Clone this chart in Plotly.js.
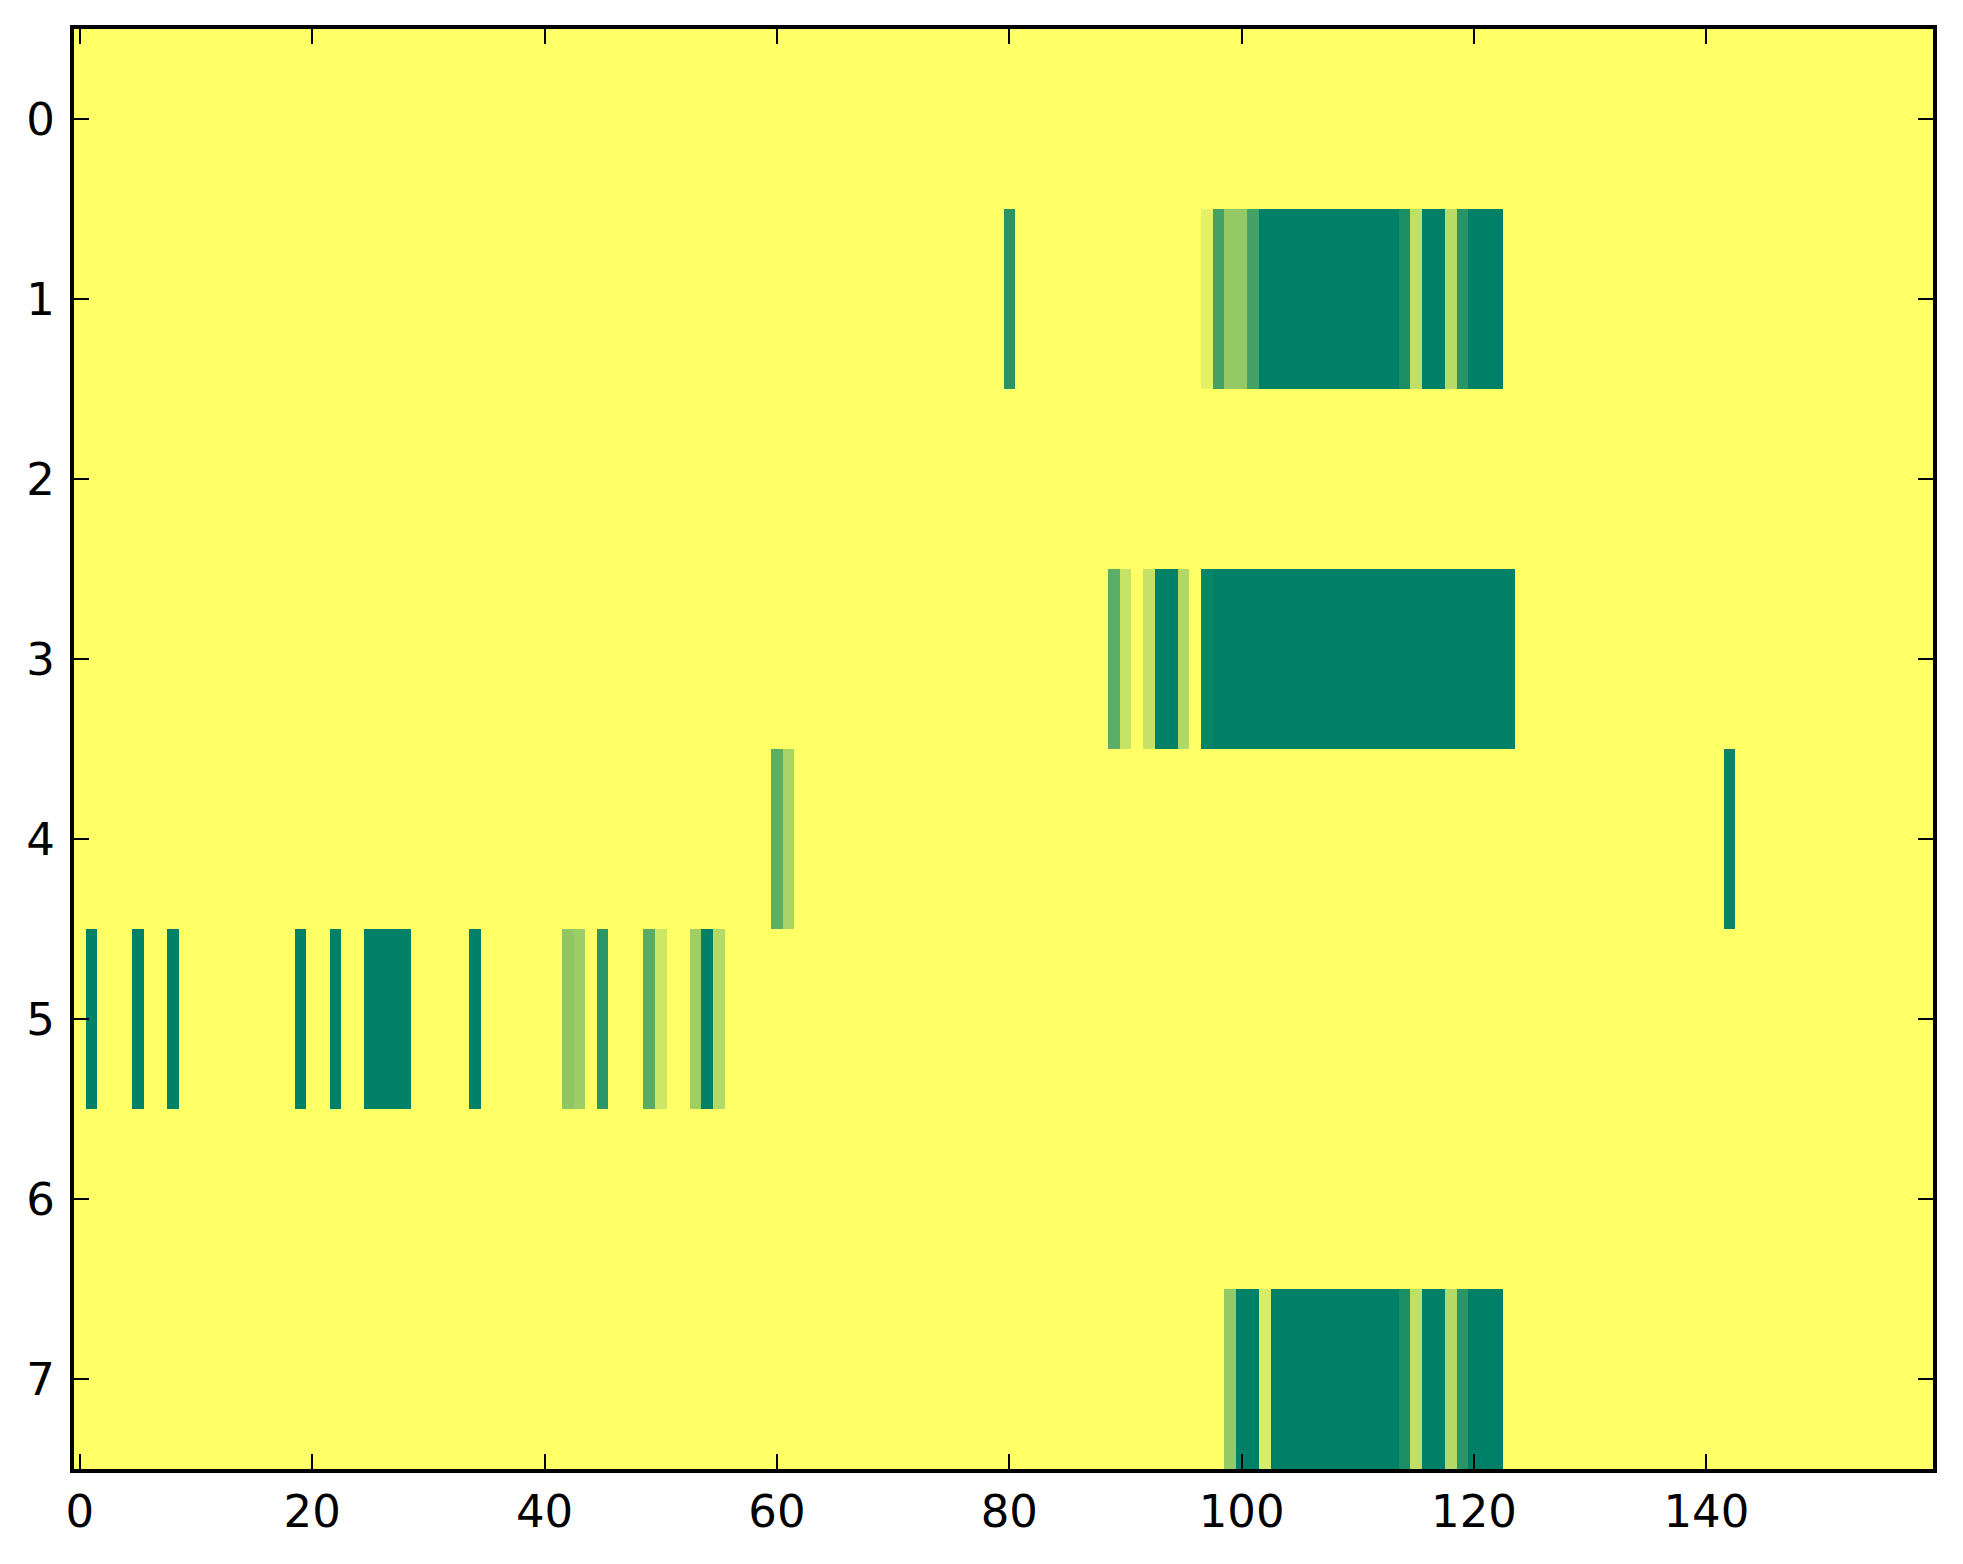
<!DOCTYPE html>
<html>
<head>
<meta charset="utf-8">
<script src="https://cdn.plot.ly/plotly-3.0.1.min.js"></script>
<style>html,body{margin:0;padding:0;background:#fff;}#chart{width:1963px;height:1564px;}</style>
</head>
<body>
<div id="chart"></div>
<script>
// Number of columns (x) and row labels (y)
const nCols = 160;
const rowLabels = [0, 1, 2, 3, 4, 5, 6, 7];
const xTickVals = [0, 20, 40, 60, 80, 100, 120, 140];

// Non-zero cells per row (column index, value); all other cells are 0
const row0Cols = [];
const row0Vals = [];
const row1Cols = [80, 97, 98, 99, 100, 101, 102, 103, 104, 105, 106, 107, 108, 109, 110, 111, 112, 113, 114, 115, 116, 117, 118, 119, 120, 121, 122];
const row1Vals = [0.84, 0.11, 0.73, 0.42, 0.42, 0.73, 1, 1, 1, 1, 1, 1, 1, 1, 1, 1, 1, 1, 0.89, 0.25, 1, 1, 0.28, 0.84, 1, 1, 1];
const row2Cols = [];
const row2Vals = [];
const row3Cols = [89, 90, 92, 93, 94, 95, 97, 98, 99, 100, 101, 102, 103, 104, 105, 106, 107, 108, 109, 110, 111, 112, 113, 114, 115, 116, 117, 118, 119, 120, 121, 122, 123];
const row3Vals = [0.64, 0.22, 0.23, 1, 1, 0.31, 0.97, 1, 1, 1, 1, 1, 1, 1, 1, 1, 1, 1, 1, 1, 1, 1, 1, 1, 1, 1, 1, 1, 1, 1, 1, 1, 1];
const row4Cols = [60, 61, 142];
const row4Vals = [0.63, 0.34, 0.97];
const row5Cols = [1, 5, 8, 19, 22, 25, 26, 27, 28, 34, 42, 43, 45, 49, 50, 53, 54, 55];
const row5Vals = [1, 1, 1, 1, 1, 1, 1, 1, 1, 1, 0.44, 0.39, 0.83, 0.65, 0.2, 0.38, 1, 0.3];
const row6Cols = [];
const row6Vals = [];
const row7Cols = [99, 100, 101, 102, 103, 104, 105, 106, 107, 108, 109, 110, 111, 112, 113, 114, 115, 116, 117, 118, 119, 120, 121, 122];
const row7Vals = [0.42, 1, 1, 0.15, 1, 1, 1, 1, 1, 1, 1, 1, 1, 1, 1, 0.89, 0.25, 1, 1, 0.30, 0.835, 1, 1, 1];

const rowCols = [row0Cols, row1Cols, row2Cols, row3Cols, row4Cols, row5Cols, row6Cols, row7Cols];
const rowVals = [row0Vals, row1Vals, row2Vals, row3Vals, row4Vals, row5Vals, row6Vals, row7Vals];

const xs = [];
for (let i = 0; i < nCols; i++) xs.push(i);
const z = rowLabels.map((r, ri) => {
  const row = new Array(nCols).fill(0);
  rowCols[ri].forEach((c, k) => { row[c] = rowVals[ri][k]; });
  return row;
});

// matplotlib "summer_r" colormap (linear in RGB)
const summerR = [[0, 'rgb(255,255,102)'], [1, 'rgb(0,128,102)']];

const trace = {
  type: 'heatmap',
  x: xs,
  y: rowLabels,
  z: z,
  zmin: 0,
  zmax: 1,
  colorscale: summerR,
  showscale: false,
  hoverinfo: 'skip',
  xgap: 0,
  ygap: 0
};

const axisCommon = {
  showgrid: false,
  zeroline: false,
  showline: true,
  linecolor: '#000',
  linewidth: 4,
  mirror: 'ticks',
  ticks: 'inside',
  ticklen: 15,
  tickwidth: 2,
  tickcolor: '#000',
  tickfont: {family: 'DejaVu Sans', size: 45, color: '#000'}
};

const layout = {
  width: 1963,
  height: 1564,
  margin: {l: 74, r: 30, t: 29, b: 95},
  paper_bgcolor: '#fff',
  plot_bgcolor: '#fff',
  font: {family: 'DejaVu Sans', size: 45, color: '#000'},
  xaxis: Object.assign({}, axisCommon, {
    range: [-0.5, 159.5],
    tickmode: 'array',
    tickvals: xTickVals,
    ticktext: xTickVals.map(String),
    ticklabelstandoff: 0
  }),
  yaxis: Object.assign({}, axisCommon, {
    range: [7.5, -0.5],
    tickmode: 'array',
    tickvals: rowLabels,
    ticktext: rowLabels.map(String),
    ticklabelstandoff: 6
  })
};

Plotly.newPlot('chart', [trace], layout, {displayModeBar: false, staticPlot: true});
</script>
</body>
</html>
